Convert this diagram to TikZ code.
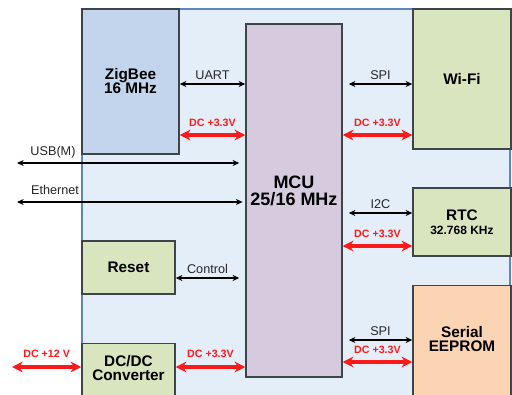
\documentclass[tikz,border=0pt]{standalone}
\usepackage{fontspec}
\setmainfont{Liberation Sans}
\usetikzlibrary{arrows.meta}
\definecolor{panel}{HTML}{E4EEF9}
\definecolor{panelline}{HTML}{5B86C4}
\definecolor{zig}{HTML}{C3D5EC}
\definecolor{mcu}{HTML}{D6CADF}
\definecolor{grn}{HTML}{D8E5BE}
\definecolor{peach}{HTML}{FBD4B4}
\definecolor{boxline}{HTML}{3F4448}
\definecolor{dcred}{HTML}{FF1A1A}
\begin{document}
\begin{tikzpicture}[x=0.75pt,y=-0.75pt,
  blk/.style={draw=boxline,line width=1.1pt,inner sep=0pt,align=center,font=\bfseries\fontsize{11.5}{11.5}\selectfont},
  sig/.style={line width=1pt,{Stealth[length=5pt,width=4.5pt]}-{Stealth[length=5pt,width=4.5pt]}},
  pwr/.style={draw=dcred,line width=2.4pt,{Stealth[length=8pt,width=8pt]}-{Stealth[length=8pt,width=8pt]}},
  siglab/.style={font=\fontsize{9.5}{9.5}\selectfont,text=black!85,inner sep=1pt},
  pwrlab/.style={font=\bfseries\fontsize{8}{8}\selectfont,text=dcred,inner sep=1pt}]
\useasboundingbox (0,0) rectangle (512,394);
\fill[white] (0,0) rectangle (512,394);
% background panel
\filldraw[fill=panel,draw=panelline,line width=0.8pt] (82,9) rectangle (510,400);
% blocks
\node[blk,fill=zig,minimum width=97*0.75pt,minimum height=145*0.75pt] (zig) at (130.5,81.5) {ZigBee\\[-1pt]16 MHz};
\node[blk,fill=mcu,minimum width=96*0.75pt,minimum height=353*0.75pt] (mcu) at (294,200.5) {};
\node[font=\bfseries\fontsize{13.5}{13.5}\selectfont,align=center] (mcutxt) at (294,191) {MCU\\[-1pt]25/16 MHz};
\node[blk,fill=grn,minimum width=98*0.75pt,minimum height=140*0.75pt] (wifi) at (462,79) {Wi-Fi};
\node[blk,fill=grn,minimum width=98*0.75pt,minimum height=68*0.75pt] (rtc) at (462,222) {RTC\\[-1pt]{\fontsize{9}{9}\selectfont 32.768 KHz}};
\node[blk,fill=peach,minimum width=98*0.75pt,minimum height=115*0.75pt,anchor=north] (eep) at (462,285) {};
\node[blk,fill=grn,minimum width=93*0.75pt,minimum height=53*0.75pt] (reset) at (128.5,267.5) {Reset};
\node[blk,fill=grn,minimum width=93*0.75pt,minimum height=60*0.75pt,anchor=north] (dcdc) at (128.5,343) {};
\node[font=\bfseries\fontsize{11.5}{11.5}\selectfont,align=center] (eeptxt) at (462,339) {Serial\\[-1pt]EEPROM};
\node[font=\bfseries\fontsize{11.5}{11.5}\selectfont,align=center] (dctxt) at (128.5,368) {DC/DC\\[-1pt]Converter};
% free ends
\coordinate (usbL) at (17,163);
\coordinate (ethL) at (17,202);
\coordinate (v12L) at (12,367);
% left side signals
\draw[sig] (zig.east |- 0,84) -- (mcu.west |- 0,84) node[siglab,midway,above=2pt] {UART};
\draw[pwr] (zig.east |- 0,135) -- (mcu.west |- 0,135) node[pwrlab,midway,above=4pt] {DC +3.3V};
\draw[sig] (usbL) -- ([xshift=-4.5pt]mcu.west |- usbL);
\node[siglab] (usblab) at (53,152) {USB(M)};
\draw[sig] (ethL) -- ([xshift=-2pt]mcu.west |- ethL);
\node[siglab] (ethlab) at (55,190) {Ethernet};
\draw[sig] (reset.east |- 0,278) -- ([xshift=-4.5pt]mcu.west |- 0,278) node[siglab,midway,above=2pt] {Control};
\draw[pwr] (v12L) -- (dcdc.west |- v12L) node[pwrlab,midway,above=5pt] {DC +12 V};
\draw[pwr] (dcdc.east |- 0,367) -- (mcu.west |- 0,367) node[pwrlab,midway,above=5pt] {DC +3.3V};
% right side signals
\draw[sig] ([xshift=4.5pt]mcu.east |- 0,84) -- (wifi.west |- 0,84) node[siglab,midway,above=2pt] {SPI};
\draw[pwr] (mcu.east |- 0,135) -- (wifi.west |- 0,135) node[pwrlab,midway,above=4pt] {DC +3.3V};
\draw[sig] ([xshift=4.5pt]mcu.east |- 0,213) -- (rtc.west |- 0,213) node[siglab,midway,above=2pt] {I2C};
\draw[pwr] (mcu.east |- 0,246) -- (rtc.west |- 0,246) node[pwrlab,midway,above=4pt] {DC +3.3V};
\draw[sig] ([xshift=4.5pt]mcu.east |- 0,340) -- (eep.west |- 0,340) node[siglab,midway,above=2pt] {SPI};
\draw[pwr] (mcu.east |- 0,362) -- (eep.west |- 0,362) node[pwrlab,midway,above=4pt] {DC +3.3V};
\end{tikzpicture}
\end{document}
